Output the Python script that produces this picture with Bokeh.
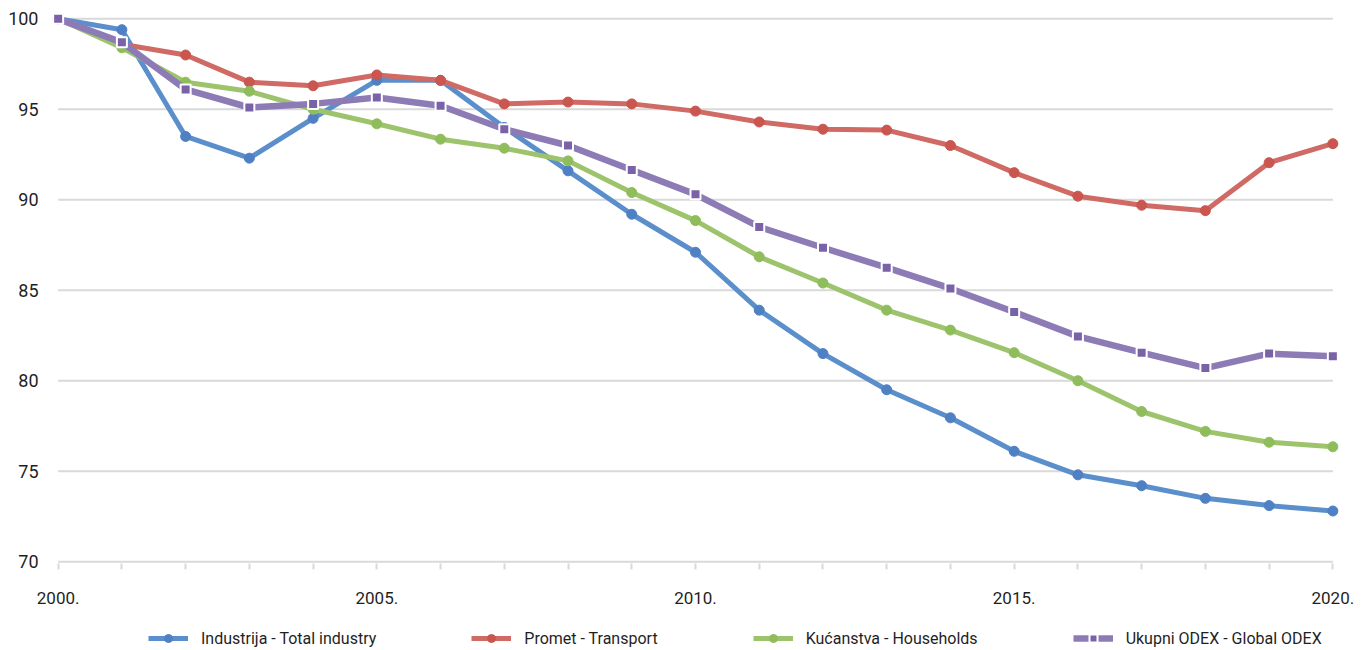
from bokeh.plotting import figure
from bokeh.layouts import column
from bokeh.models import Range1d, FixedTicker, Legend, LegendItem
from bokeh.embed import file_html
from bokeh.resources import INLINE

years = list(range(2000, 2021))
industry = [100, 99.4, 93.5, 92.3, 94.5, 96.6, 96.6, 94.0, 91.6, 89.2, 87.1,
            83.9, 81.5, 79.5, 77.95, 76.1, 74.8, 74.2, 73.5, 73.1, 72.8]
transport = [100, 98.6, 98.0, 96.5, 96.3, 96.9, 96.6, 95.3, 95.4, 95.3, 94.9,
             94.3, 93.9, 93.85, 93.0, 91.5, 90.2, 89.7, 89.4, 92.05, 93.1]
households = [100, 98.4, 96.5, 96.0, 95.0, 94.2, 93.35, 92.85, 92.15, 90.4, 88.85,
              86.85, 85.4, 83.9, 82.8, 81.55, 80.0, 78.3, 77.2, 76.6, 76.35]
odex = [100, 98.7, 96.1, 95.1, 95.3, 95.65, 95.2, 93.9, 93.0, 91.65, 90.3,
        88.5, 87.35, 86.25, 85.1, 83.8, 82.45, 81.55, 80.7, 81.5, 81.35]
labels = ["Industrija - Total industry", "Promet - Transport",
          "Kućanstva - Households", "Ukupni ODEX - Global ODEX"]
y_ticks = [70, 75, 80, 85, 90, 95, 100]
x_label_years = [2000, 2005, 2010, 2015, 2020]

FONT = "Roboto"
GRID = "#d9d9d9"
TXT = "#1f1f1f"

p = figure(width=1371, height=615, output_backend="svg", toolbar_location=None,
           x_range=Range1d(1999.88, 2020.12), y_range=Range1d(69.9, 100.35),
           min_border_left=50, min_border_right=31, min_border_top=12,
           min_border_bottom=52)
p.outline_line_color = None
p.xgrid.visible = False
p.ygrid.visible = False

# gridlines
grid_vals = y_ticks
p.segment(x0=[years[0]] * len(grid_vals), x1=[years[-1]] * len(grid_vals),
          y0=grid_vals, y1=grid_vals, line_color=GRID, line_width=2)

# axes
p.xaxis.ticker = FixedTicker(ticks=years)
p.xaxis.major_label_overrides = {y: (f"{y}." if y in x_label_years else "") for y in years}
p.xaxis.axis_line_color = None
p.xaxis.major_tick_line_color = GRID
p.xaxis.major_tick_line_width = 2
p.xaxis.major_tick_out = 6
p.xaxis.major_tick_in = 0
p.xaxis.minor_tick_line_color = None
p.xaxis.major_label_standoff = 22
p.xaxis.major_label_text_font = FONT
p.xaxis.major_label_text_font_size = "17px"
p.xaxis.major_label_text_color = TXT

p.yaxis.ticker = FixedTicker(ticks=y_ticks)
p.yaxis.axis_line_color = None
p.yaxis.major_tick_line_color = None
p.yaxis.minor_tick_line_color = None
p.yaxis.major_tick_out = 0
p.yaxis.major_tick_in = 0
p.yaxis.major_label_standoff = 12
p.yaxis.major_label_text_font = FONT
p.yaxis.major_label_text_font_size = "18px"
p.yaxis.major_label_text_color = TXT

series = [
    (industry, "#5b8fcc", "#4f80c4", "circle", 5, 10, None),
    (transport, "#cf6a64", "#c9564f", "circle", 5, 10, None),
    (households, "#9dc46c", "#8fbd5b", "circle", 5, 10, None),
    (odex, "#8d7bb6", "#7a62a8", "square", 6.5, 10, "white"),
]

# legend strip below the chart (its ranges keep the proxy glyphs out of view)
lg = figure(width=1371, height=35, output_backend="svg", toolbar_location=None,
            x_axis_type=None, y_axis_type=None, min_border=0,
            x_range=Range1d(0, 1), y_range=Range1d(0, 1))
lg.outline_line_color = None
lg.xgrid.visible = False
lg.ygrid.visible = False

items = []
for (vals, lc, mc, mk, lw, ms, mlc), lab in zip(series, labels):
    p.line(years, vals, line_color=lc, line_width=lw, line_join="round", line_cap="round")
    mkw = dict(marker=mk, size=ms, fill_color=mc,
               line_color=mlc if mlc else mc, line_width=2 if mlc else 1)
    p.scatter(years, vals, **mkw)
    r1 = lg.line(years[:2], vals[:2], line_color=lc, line_width=lw)
    r2 = lg.scatter(years[:1], vals[:1], **mkw)
    items.append(LegendItem(label=lab, renderers=[r1, r2]))

legend = Legend(items=items, orientation="horizontal", location=(98, 2),
                spacing=95, glyph_width=40, glyph_height=20, label_standoff=13,
                padding=0, margin=0, border_line_color=None, background_fill_alpha=0,
                label_text_font=FONT, label_text_font_size="16px",
                label_text_color=TXT)
lg.add_layout(legend, "center")

layout = column(p, lg, spacing=0)
open("out.html", "w").write(file_html(layout, INLINE))
